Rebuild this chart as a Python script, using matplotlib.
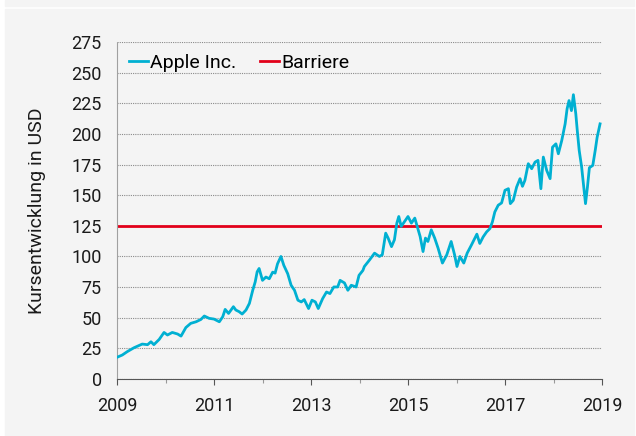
import matplotlib
matplotlib.use("Agg")
import matplotlib.pyplot as plt
from matplotlib.patches import Rectangle

# Apple Inc. share price (USD)
years = [
    2009.00, 2009.11, 2009.21, 2009.35, 2009.52, 2009.63, 2009.70, 2009.76, 2009.87, 2009.97,
    2010.04, 2010.14, 2010.25, 2010.32, 2010.42, 2010.52, 2010.63, 2010.73, 2010.80, 2010.90,
    2011.00, 2011.11, 2011.18, 2011.23, 2011.30, 2011.40, 2011.45, 2011.52, 2011.58, 2011.66,
    2011.73, 2011.80, 2011.85, 2011.89, 2011.93, 2012.00, 2012.07, 2012.14, 2012.21, 2012.26,
    2012.31, 2012.38, 2012.44, 2012.52, 2012.59, 2012.66, 2012.73, 2012.80, 2012.86, 2012.95,
    2013.02, 2013.09, 2013.15, 2013.24, 2013.32, 2013.39, 2013.47, 2013.55, 2013.60, 2013.69,
    2013.76, 2013.83, 2013.93, 2013.99, 2014.07, 2014.10, 2014.21, 2014.31, 2014.41, 2014.47,
    2014.54, 2014.59, 2014.66, 2014.72, 2014.77, 2014.81, 2014.86, 2014.93, 2015.00, 2015.07,
    2015.14, 2015.20, 2015.25, 2015.31, 2015.36, 2015.41, 2015.48, 2015.55, 2015.62, 2015.71,
    2015.80, 2015.89, 2015.96, 2016.01, 2016.07, 2016.15, 2016.22, 2016.31, 2016.42, 2016.48,
    2016.55, 2016.62, 2016.69, 2016.74, 2016.79, 2016.86, 2016.93, 2017.00, 2017.07, 2017.11,
    2017.17, 2017.24, 2017.31, 2017.36, 2017.41, 2017.48, 2017.55, 2017.62, 2017.68, 2017.74,
    2017.79, 2017.86, 2017.93, 2017.98, 2018.05, 2018.10, 2018.17, 2018.24, 2018.28, 2018.32,
    2018.37, 2018.41, 2018.46, 2018.49, 2018.53, 2018.58, 2018.63, 2018.66, 2018.70, 2018.74,
    2018.81, 2018.86, 2018.90, 2018.96,
]
apple = [
    17.7, 19.6, 22.3, 25.5, 28.5, 28.0, 30.4, 28.0, 32.3, 38.0,
    35.9, 38.0, 36.7, 35.0, 42.0, 45.4, 46.7, 48.6, 51.4, 49.5,
    48.9, 46.7, 50.8, 56.8, 53.5, 59.0, 56.3, 54.9, 53.0, 56.3,
    61.7, 72.6, 79.3, 87.5, 90.2, 80.5, 83.2, 81.8, 87.2, 86.4,
    94.0, 100.0, 92.7, 85.9, 76.5, 72.4, 64.3, 62.9, 64.8, 57.5,
    64.3, 62.9, 57.5, 65.6, 71.0, 69.7, 75.1, 75.1, 80.5, 78.4,
    72.4, 76.5, 75.1, 84.6, 88.6, 91.8, 97.3, 102.7, 100.0, 101.4,
    119.0, 115.0, 108.0, 113.6, 127.2, 132.6, 124.5, 128.5, 132.6, 127.2,
    131.3, 123.0, 116.3, 104.0, 115.0, 112.2, 121.7, 115.0, 106.8, 94.6,
    101.4, 112.2, 101.4, 91.8, 100.0, 94.6, 102.7, 109.5, 118.2, 110.6,
    116.0, 120.0, 122.8, 128.2, 136.3, 141.8, 143.7, 154.0, 155.3, 143.1,
    145.8, 156.7, 163.5, 157.2, 162.1, 175.7, 171.6, 177.0, 178.4, 155.3,
    181.1, 170.2, 163.5, 189.2, 191.9, 183.8, 194.6, 208.2, 220.4, 227.2,
    219.0, 232.0, 216.3, 202.8, 186.5, 173.0, 154.0, 143.1, 156.7, 172.4,
    174.3, 186.5, 197.3, 208.2,
]
barrier = 125

x_start, x_end = 2009, 2019
label_years = [2009, 2011, 2013, 2015, 2017, 2019]
y_ticks = list(range(0, 276, 25))

BG = "#f4f4f4"
APPLE_COLOR = "#00b0d2"
BARRIER_COLOR = "#e2001a"
TEXT = "#1a1a1a"

plt.rcParams["font.family"] = ["Roboto", "DejaVu Sans"]

fig = plt.figure(figsize=(6.36, 4.36), dpi=100, facecolor="white")
# grey panels behind the chart
fig.patches.append(Rectangle((5 / 636, 0), 629 / 636, 427 / 436,
                             transform=fig.transFigure, color=BG, zorder=-10))
fig.patches.append(Rectangle((5 / 636, 430 / 436), 629 / 636, 6 / 436,
                             transform=fig.transFigure, color=BG, zorder=-10))

ax = fig.add_axes([117 / 636, 57 / 436, 485 / 636, 337 / 436])
ax.set_facecolor(BG)

ax.plot(years, apple, color=APPLE_COLOR, lw=2.0, label="Apple Inc.", zorder=3)
ax.axhline(barrier, color=BARRIER_COLOR, lw=2.0, label="Barriere", zorder=2)

ax.set_xlim(x_start, x_end)
ax.set_ylim(0, 275)
ax.set_yticks(y_ticks)
ax.set_xticks(label_years)
ax.set_xticklabels([str(y) for y in label_years])
ax.set_xticks([y for y in range(x_start, x_end + 1) if y not in label_years], minor=True)

ax.grid(axis="y", color="#8a8a8a", linestyle=(0, (1, 1)), lw=0.8)
ax.set_axisbelow(True)

for side in ["top", "right"]:
    ax.spines[side].set_visible(False)
ax.spines["left"].set_color("#a0a0a0")
ax.spines["left"].set_linestyle((0, (1, 1)))
ax.spines["left"].set_linewidth(0.8)
ax.spines["bottom"].set_color("#555555")
ax.spines["bottom"].set_linestyle((0, (1, 1)))
ax.spines["bottom"].set_linewidth(0.8)

ax.tick_params(axis="y", length=0, pad=11, labelsize=13, labelcolor=TEXT)
ax.tick_params(axis="x", which="both", direction="out", length=4, width=0.8,
               color="#555555", labelsize=13, labelcolor=TEXT, pad=9)
ax.tick_params(axis="x", which="minor", length=3, color="#999999")

ax.set_ylabel("Kursentwicklung in USD", fontsize=14, color=TEXT, labelpad=18)

ax.legend(loc="upper left", frameon=False, ncol=2, fontsize=14,
          handlelength=1.0, handletextpad=0.1, columnspacing=1.2,
          bbox_to_anchor=(0.0, 1.0), borderaxespad=0.2)

fig.savefig("out.png", dpi=100, facecolor=fig.get_facecolor())
